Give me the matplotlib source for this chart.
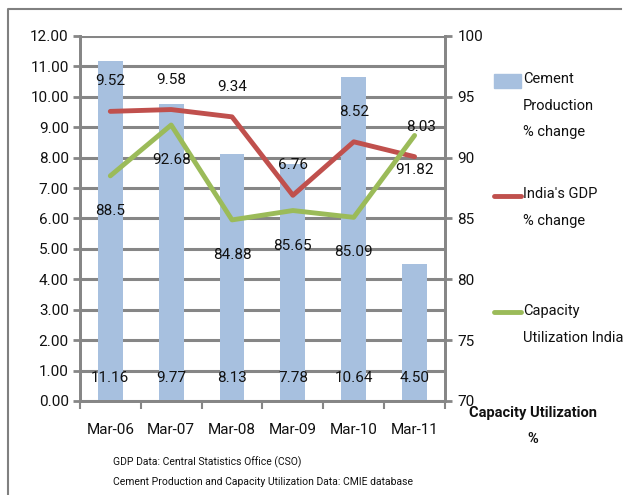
import matplotlib
matplotlib.use("Agg")
import matplotlib.pyplot as plt
from matplotlib.patches import Rectangle
from matplotlib.lines import Line2D
import numpy as np

months = ['Mar-06', 'Mar-07', 'Mar-08', 'Mar-09', 'Mar-10', 'Mar-11']
cement = [11.16, 9.77, 8.13, 7.78, 10.64, 4.50]
gdp = [9.52, 9.58, 9.34, 6.76, 8.52, 8.03]
capacity = [88.5, 92.68, 84.88, 85.65, 85.09, 91.82]
capacity_labels = ['88.5', '92.68', '84.88', '85.65', '85.09', '91.82']
left_ticks = np.arange(0, 13, 1)
right_ticks = np.arange(70, 101, 5)

BLUE = '#a7c0df'
RED = '#c0504d'
GREEN = '#9bbb59'
GRID = '#868686'
TXT = '#111111'
FS = 11

plt.rcParams['font.family'] = ['Roboto', 'DejaVu Sans']

fig = plt.figure(figsize=(6.29, 4.95), dpi=100)
ax = fig.add_axes([0.127, 0.19, 0.5805, 0.7374])
ax2 = ax.twinx()

x = np.arange(len(months))

# gridlines behind bars
ax.set_axisbelow(True)
ax.yaxis.grid(True, color=GRID, linewidth=2.2)
ax.bar(x, cement, width=0.41, color=BLUE, zorder=2)
ax.plot(x, gdp, color=RED, linewidth=3.5, solid_capstyle='round', zorder=3)
ax2.plot(x, capacity, color=GREEN, linewidth=3.5, solid_capstyle='round', zorder=3)

ax.set_xlim(-0.5, len(months) - 0.5)
ax.set_ylim(0, 12)
ax2.set_ylim(70, 100)
ax.set_yticks(left_ticks)
ax.set_yticklabels(['%.2f' % v for v in left_ticks], fontsize=FS, color=TXT)
ax2.set_yticks(right_ticks)
ax2.set_yticklabels([str(v) for v in right_ticks], fontsize=FS, color=TXT)
ax.set_xticks(x)
ax.set_xticklabels(months, fontsize=FS, color=TXT)
ax.set_xticks(np.arange(-0.5, len(months), 1), minor=True)
ax.tick_params(axis='x', which='major', length=0, pad=16)
ax.tick_params(axis='x', which='minor', length=6, width=1.5, color=GRID)
ax.tick_params(axis='y', length=5, width=2, color=GRID, pad=3)
ax2.tick_params(axis='y', length=5, width=2, color=GRID, pad=4)

for a in (ax, ax2):
    a.spines['top'].set_visible(False)
    for s in ('left', 'right', 'bottom'):
        a.spines[s].set_color(GRID)
        a.spines[s].set_linewidth(2)

# data labels
for i, v in enumerate(cement):
    ax.text(i, 0.76, '%.2f' % v, ha='center', va='center', fontsize=FS, color=TXT, zorder=4)
for i, v in enumerate(gdp):
    dx = 6 if i == len(gdp) - 1 else 0
    ax.annotate('%.2f' % v, (i, v), xytext=(dx, 30), textcoords='offset pixels',
                ha='center', va='center', fontsize=FS, color=TXT, zorder=4)
for i, v in enumerate(capacity):
    ax2.annotate(capacity_labels[i], (i, v), xytext=(0, -35), textcoords='offset pixels',
                 ha='center', va='center', fontsize=FS, color=TXT, zorder=4)

# legend drawn by hand
lx0, lx1, tx = 494 / 629, 521 / 629, 523 / 629
fig.add_artist(Rectangle((lx0, 1 - 88 / 495), lx1 - lx0, 14 / 495,
                         transform=fig.transFigure, color=BLUE))
fig.add_artist(Line2D([lx0, lx1], [1 - 196 / 495] * 2, transform=fig.transFigure,
                      color=RED, linewidth=3.5, solid_capstyle='round'))
fig.add_artist(Line2D([lx0, lx1], [1 - 312 / 495] * 2, transform=fig.transFigure,
                      color=GREEN, linewidth=3.5, solid_capstyle='round'))
leg_kw = dict(ha='left', va='top', fontsize=10.5, color=TXT, linespacing=2.15)
fig.text(tx, 1 - 72 / 495, 'Cement\nProduction\n% change', **leg_kw)
fig.text(tx, 1 - 187 / 495, "India's GDP\n% change", **leg_kw)
fig.text(tx, 1 - 304 / 495, 'Capacity\nUtilization India', **leg_kw)

fig.text(533 / 629, 1 - 426 / 495, 'Capacity Utilization\n%', ha='center', va='center',
         fontsize=10.5, fontweight='bold', color=TXT, linespacing=2.1)

fig.text(113 / 629, 1 - 462 / 495, 'GDP Data: Central Statistics Office (CSO)',
         ha='left', va='center', fontsize=7.5, color=TXT)
fig.text(113 / 629, 1 - 482 / 495, 'Cement Production and Capacity Utilization Data: CMIE database',
         ha='left', va='center', fontsize=7.5, color=TXT)

# outer chart frame
fig.add_artist(Line2D([8 / 629, 8 / 629, 621 / 629], [0, 1 - 9 / 495, 1 - 9 / 495],
                      transform=fig.transFigure, color='#808080', linewidth=1.5))

fig.savefig('out.png', dpi=100)
